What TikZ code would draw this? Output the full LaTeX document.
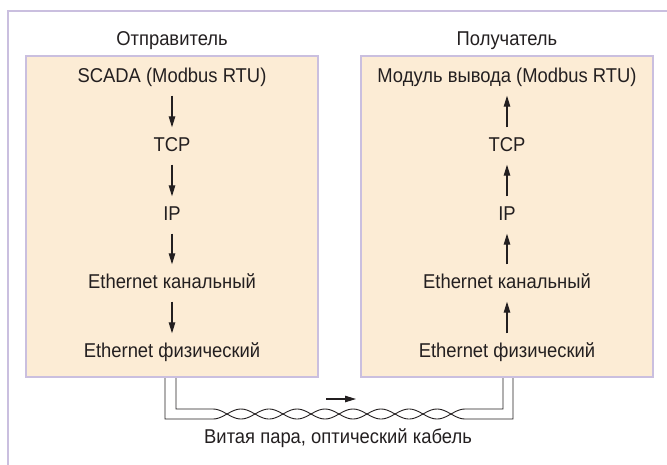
\documentclass[tikz,border=0pt]{standalone}
\usepackage{fontspec}
\setmainfont{Liberation Sans}[FakeStretch=0.92]
\usepackage{tikz}
\usetikzlibrary{arrows.meta}
\tikzset{>={Triangle[length=11pt,width=6.5pt]}}
\definecolor{frameclr}{HTML}{CABFDF}
\definecolor{boxclr}{HTML}{FCECD5}
\definecolor{inkclr}{HTML}{231F20}
\tikzset{
  layer/.style={font=\fontsize{20}{23}\selectfont, text=inkclr, text height=14pt, text depth=4pt, inner xsep=0pt, inner ysep=9.5pt},
  stackbox/.style={draw=frameclr, fill=boxclr, line width=2pt, minimum width=292pt, minimum height=321pt, inner sep=0pt},
  link/.style={->, line width=1.1pt, color=inkclr},
  wire/.style={line width=0.9pt, color=inkclr}
}

\begin{document}
\begin{tikzpicture}[x=1pt, y=-1pt]
        \def\lcol{172}
        \def\rcol{507}
        \def\twist{6.4286}

        \clip (0,0) rectangle (667,464);

        %frame
        \draw[color=frameclr, line width=2pt] (8,11) rectangle (700,500);

        %stacks
        \node[stackbox] (sbox) at (\lcol,216.5) {};
        \node[stackbox] (rbox) at (\rcol,216.5) {};
        \node[layer] (stitle) at (\lcol,40) {Отправитель};
        \node[layer] (rtitle) at (\rcol,40) {Получатель};

        %sender
        \node[layer] (sapp) at (\lcol,77) {SCADA (Modbus RTU)};
        \node[layer] (stcp) at (\lcol,146) {TCP};
        \node[layer] (sip)  at (\lcol,215) {IP};
        \node[layer] (seth) at (\lcol,283) {Ethernet канальный};
        \node[layer] (sphy) at (\lcol,352) {Ethernet физический};
        \draw[link] (sapp.south) -- (stcp.north);
        \draw[link] (stcp.south) -- (sip.north);
        \draw[link] (sip.south)  -- (seth.north);
        \draw[link] (seth.south) -- (sphy.north);

        %receiver
        \node[layer] (rapp) at (\rcol,77) {Модуль вывода (Modbus RTU)};
        \node[layer] (rtcp) at (\rcol,146) {TCP};
        \node[layer] (rip)  at (\rcol,215) {IP};
        \node[layer] (reth) at (\rcol,283) {Ethernet канальный};
        \node[layer] (rphy) at (\rcol,352) {Ethernet физический};
        \draw[link] (rtcp.north) -- (rapp.south);
        \draw[link] (rip.north)  -- (rtcp.south);
        \draw[link] (reth.north) -- (rip.south);
        \draw[link] (rphy.north) -- (reth.south);

        %cable
        \draw[wire] ([xshift=4pt]sbox.south) |- (213,409) -- plot[domain=213:465, samples=120] (\x,{414-5*cos(\twist*(\x-213))}) -| ([xshift=6pt]rbox.south);
        \draw[wire] ([xshift=-7pt]sbox.south) |- (213,419) -- plot[domain=213:465, samples=120] (\x,{414+5*cos(\twist*(\x-213))}) -| ([xshift=-4pt]rbox.south);
        \coordinate (dirA) at (326,399);
        \coordinate (dirB) at (356,399);
        \draw[link] (dirA) -- (dirB);
        \node[layer] (cable) at (338,438) {Витая пара, оптический кабель};

    \end{tikzpicture}
\end{document}
